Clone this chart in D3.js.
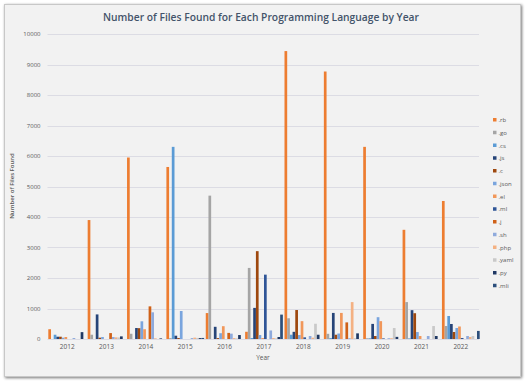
<!DOCTYPE html>
<html><head><meta charset="utf-8">
<script src="https://cdn.jsdelivr.net/npm/d3@7"></script>
<style>body{margin:0;background:#fff;}svg{display:block;}</style>
</head><body>
<svg id="chart" width="526" height="382"></svg>
<script>
const years = ["2012","2013","2014","2015","2016","2017","2018","2019","2020","2021","2022"];
const languages = [".rb",".go",".cs",".js",".c",".json",".el",".ml",".j",".sh",".php",".yaml",".py",".mli"];
const colors = ["#ED7D31","#A5A5A5","#5B9BD5","#264478","#9E480E","#7AA5DE","#F1975A","#2F5597","#CF6118","#8FAADC","#F4B183","#C9C9C9","#1F3864","#2C4F7C"];
const yTicks = [0,1000,2000,3000,4000,5000,6000,7000,8000,9000,10000];

// values per language, one entry per year (2012..2022)
const rb   = [320,3900,5950,5640,850,237,9440,8770,6300,3580,4525];
const go   = [0,140,172,30,4700,2330,680,170,25,1210,426];
const cs   = [140,0,0,6300,0,32,140,30,25,20,754];
const js   = [75,806,360,108,400,1020,235,855,495,945,492];
const c    = [75,43,355,32,30,2880,950,140,98,845,230];
const json = [43,65,580,918,190,130,130,180,715,228,360];
const el   = [65,0,320,0,420,32,585,855,585,98,410];
const ml   = [0,0,0,0,0,2110,54,0,20,0,33];
const j    = [0,194,1070,0,200,0,0,545,0,0,0];
const sh   = [32,65,875,30,175,280,98,25,25,98,98];
const php  = [0,54,22,45,30,32,43,1210,25,0,66];
const yaml = [0,50,0,35,20,20,500,25,360,425,98];
const py   = [225,86,20,30,130,65,140,185,70,98,0];
const mli  = [0,0,0,35,0,800,0,0,0,0,265];

const seriesValues = [rb,go,cs,js,c,json,el,ml,j,sh,php,yaml,py,mli];

const svg = d3.select("#chart");
const defs = svg.append("defs");
const f = defs.append("filter").attr("id","sh").attr("x","-5%").attr("y","-5%").attr("width","110%").attr("height","110%");
f.append("feGaussianBlur").attr("in","SourceAlpha").attr("stdDeviation",1.6);
f.append("feOffset").attr("dx",0.5).attr("dy",0.5).attr("result","b");
f.append("feComponentTransfer").append("feFuncA").attr("type","linear").attr("slope",0.55);
const m = f.append("feMerge"); m.append("feMergeNode"); m.append("feMergeNode").attr("in","SourceGraphic");

svg.append("rect").attr("x",4.5).attr("y",4.5).attr("width",516).attr("height",372)
  .attr("fill","#F2F2F2").attr("stroke","#C8C8C8").attr("stroke-width",1).attr("filter","url(#sh)");

const x0 = d3.scaleBand().domain(years).range([47.5,480.5]).paddingInner(0).paddingOuter(0);
const x1 = d3.scaleBand().domain(languages).range([0,x0.bandwidth()]).paddingInner(0).paddingOuter(0.3);
const y = d3.scaleLinear().domain([0,10000]).range([339,34]);

const font = "'Open Sans', 'Noto Sans', sans-serif";

// gridlines
svg.append("g").selectAll("line").data(yTicks).join("line")
  .attr("x1",47.5).attr("x2",479).attr("y1",d=>Math.round(y(d))+0.5).attr("y2",d=>Math.round(y(d))+0.5)
  .attr("stroke","#DCDCE4").attr("stroke-width",1);

// y axis labels
const yAxis = d3.axisLeft(y).tickValues(yTicks).tickSize(0).tickPadding(0).tickFormat(d3.format("d"));
const gy = svg.append("g").attr("transform","translate(40.5,0)").call(yAxis);
gy.select(".domain").remove();
gy.selectAll("text").attr("font-family",font).attr("font-size",6).attr("fill","#595959");

// bars
const g = svg.append("g");
years.forEach((yr, yi) => {
  const gg = g.append("g").attr("transform",`translate(${x0(yr)},0)`);
  gg.selectAll("rect").data(languages.map((l,li)=>({l, v: seriesValues[li][yi], c: colors[li]})))
    .join("rect")
    .attr("x",d=>x1(d.l)).attr("width",x1.bandwidth())
    .attr("y",d=>y(d.v)).attr("height",d=>y(0)-y(d.v))
    .attr("fill",d=>d.c);
});

// x axis
const xAxis = d3.axisBottom(x0).tickSize(0).tickPadding(0);
const gx = svg.append("g").attr("transform","translate(0,344)").call(xAxis);
gx.select(".domain").remove();
gx.selectAll("text").attr("font-family",font).attr("font-size",6.5).attr("fill","#595959");

// axis titles
svg.append("text").attr("x",263).attr("y",360).attr("text-anchor","middle")
  .attr("font-family",font).attr("font-size",6.5).attr("fill","#595959").text("Year");
svg.append("text").attr("transform","translate(14,186) rotate(-90)").attr("text-anchor","middle")
  .attr("font-family",font).attr("font-size",6).attr("font-weight","600").attr("fill","#595959").text("Number of Files Found");

// title
svg.append("text").attr("x",261).attr("y",21).attr("text-anchor","middle")
  .attr("font-family",font).attr("font-size",11.5).attr("font-weight","600").attr("fill","#44546A")
  .attr("textLength",316).attr("lengthAdjust","spacingAndGlyphs")
  .text("Number of Files Found for Each Programming Language by Year");

// legend
const lg = svg.append("g").selectAll("g").data(languages).join("g")
  .attr("transform",(d,i)=>`translate(493,${120 + i*12.75})`);
lg.append("rect").attr("x",0).attr("y",-2).attr("width",3.5).attr("height",3.5).attr("fill",(d,i)=>colors[i]);
lg.append("text").attr("x",5.5).attr("y",2).attr("font-family",font).attr("font-size",6).attr("fill","#595959").text(d=>d);
</script>
</body></html>
